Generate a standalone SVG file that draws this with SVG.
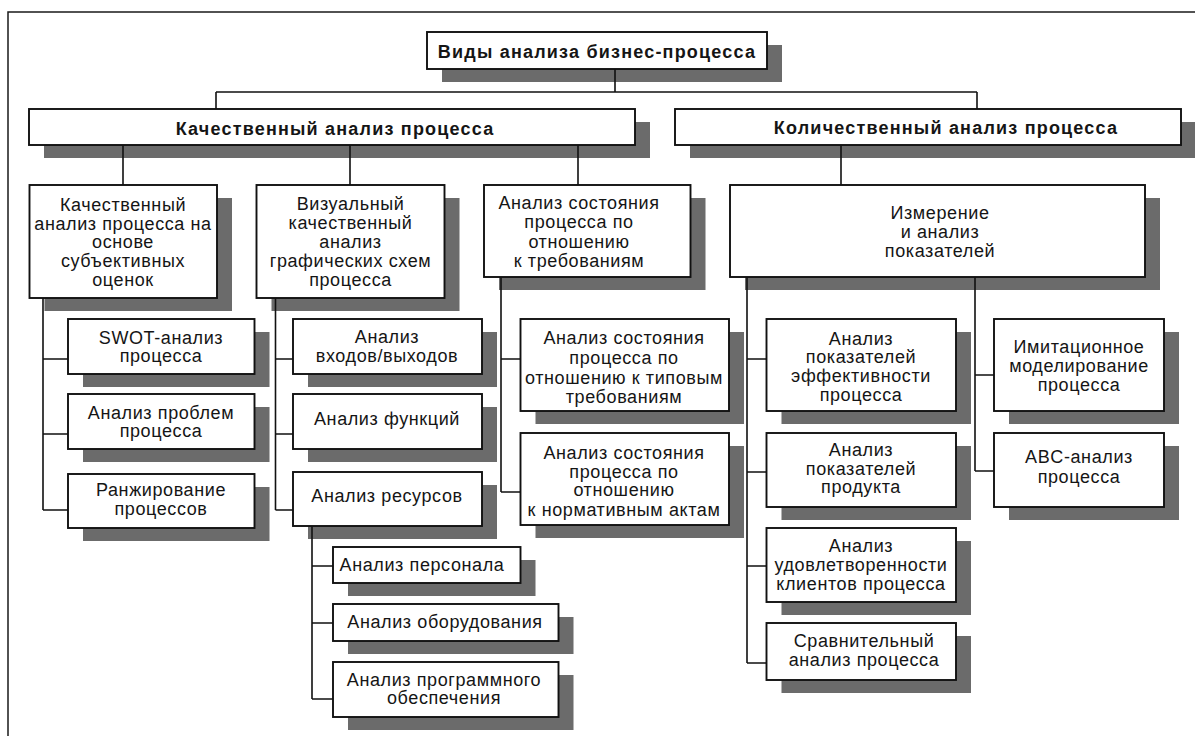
<svg xmlns="http://www.w3.org/2000/svg" width="1195" height="736" viewBox="0 0 1195 736">
<style>
.frame{fill:none;stroke:#1a1a1a;stroke-width:1.5}
.sh{fill:#6b6b6b}
.bx{fill:#fff;stroke:#111;stroke-width:1.9}
.cn{fill:none;stroke:#111;stroke-width:1.6}
text{font-family:"Liberation Sans",Arial,sans-serif;font-size:18px;fill:#151515;text-anchor:middle;letter-spacing:0.6px}
.b{font-weight:bold;letter-spacing:1.2px}
</style>
<rect width="1195" height="736" fill="#fff"/>
<rect class="frame" x="8" y="12" width="1200" height="740"/>

<g id="root">
<rect class="sh" x="442" y="45" width="340" height="37"/>
<rect class="bx" x="427" y="32" width="340" height="37"/>
<text class="b" x="597" y="58">Виды анализа бизнес-процесса</text>
</g>

<g id="qual">
<rect class="sh" x="44" y="122" width="606" height="36"/>
<rect class="bx" x="29" y="109" width="606" height="36"/>
<text class="b" x="335" y="134.5">Качественный анализ процесса</text>
</g>

<g id="quant">
<rect class="sh" x="690" y="122" width="506" height="36"/>
<rect class="bx" x="675" y="109" width="506" height="36"/>
<text class="b" x="946" y="134">Количественный анализ процесса</text>
</g>

<g id="nodeA">
<rect class="sh" x="44.5" y="198" width="187.5" height="113"/>
<rect class="bx" x="29.5" y="185" width="187.5" height="113"/>
<text x="123"><tspan x="123" y="211">Качественный</tspan><tspan x="123" y="230">анализ процесса на</tspan><tspan x="123" y="248">основе</tspan><tspan x="123" y="267">субъективных</tspan><tspan x="123" y="286">оценок</tspan></text>
</g>

<g id="nodeB">
<rect class="sh" x="271.5" y="198" width="188" height="113"/>
<rect class="bx" x="256.5" y="185" width="188" height="113"/>
<text x="350.5"><tspan x="350.5" y="210">Визуальный</tspan><tspan x="350.5" y="229">качественный</tspan><tspan x="350.5" y="248">анализ</tspan><tspan x="350.5" y="267">графических схем</tspan><tspan x="350.5" y="286">процесса</tspan></text>
</g>

<g id="nodeC">
<rect class="sh" x="499" y="198" width="206.5" height="92"/>
<rect class="bx" x="484" y="185" width="206.5" height="92"/>
<text x="579"><tspan x="579" y="209.3">Анализ состояния</tspan><tspan x="579" y="228.3">процесса по</tspan><tspan x="579" y="247.7">отношению</tspan><tspan x="579" y="266.7">к требованиям</tspan></text>
</g>

<g id="nodeD">
<rect class="sh" x="745" y="198" width="415" height="92"/>
<rect class="bx" x="730" y="185" width="415" height="92"/>
<text x="940"><tspan x="940" y="219">Измерение</tspan><tspan x="940" y="238">и анализ</tspan><tspan x="940" y="257">показателей</tspan></text>
</g>

<g id="nodeA1">
<rect class="sh" x="83" y="332" width="186.5" height="55"/>
<rect class="bx" x="68" y="319" width="186.5" height="55"/>
<text x="161"><tspan x="161" y="344">SWOT-анализ</tspan><tspan x="161" y="362">процесса</tspan></text>
</g>

<g id="nodeA2">
<rect class="sh" x="83" y="407" width="186.5" height="55"/>
<rect class="bx" x="68" y="394" width="186.5" height="55"/>
<text x="161"><tspan x="161" y="418.7">Анализ проблем</tspan><tspan x="161" y="436.7">процесса</tspan></text>
</g>

<g id="nodeA3">
<rect class="sh" x="83" y="487" width="186.5" height="54"/>
<rect class="bx" x="68" y="474" width="186.5" height="54"/>
<text x="161"><tspan x="161" y="496">Ранжирование</tspan><tspan x="161" y="515">процессов</tspan></text>
</g>

<g id="nodeB1">
<rect class="sh" x="308" y="332" width="189" height="55"/>
<rect class="bx" x="293" y="319" width="189" height="55"/>
<text x="387"><tspan x="387" y="342.7">Анализ</tspan><tspan x="387" y="361.7">входов/выходов</tspan></text>
</g>

<g id="nodeB2">
<rect class="sh" x="308" y="407" width="189" height="55"/>
<rect class="bx" x="293" y="394" width="189" height="55"/>
<text x="387" y="425.3">Анализ функций</text>
</g>

<g id="nodeB3">
<rect class="sh" x="308" y="485" width="189" height="54"/>
<rect class="bx" x="293" y="472" width="189" height="54"/>
<text x="387" y="501.7">Анализ ресурсов</text>
</g>

<g id="nodeB3a">
<rect class="sh" x="348" y="560" width="187.5" height="36"/>
<rect class="bx" x="333" y="547" width="187.5" height="36"/>
<text x="422" y="571">Анализ персонала</text>
</g>

<g id="nodeB3b">
<rect class="sh" x="348" y="617" width="225.5" height="37"/>
<rect class="bx" x="333" y="604" width="225.5" height="37"/>
<text x="445" y="628.3">Анализ оборудования</text>
</g>

<g id="nodeB3c">
<rect class="sh" x="348" y="675" width="225.5" height="55"/>
<rect class="bx" x="333" y="662" width="225.5" height="55"/>
<text x="444"><tspan x="444" y="686">Анализ программного</tspan><tspan x="444" y="704.3">обеспечения</tspan></text>
</g>

<g id="nodeC1">
<rect class="sh" x="535.5" y="332" width="208.5" height="92"/>
<rect class="bx" x="520.5" y="319" width="208.5" height="92"/>
<text x="624"><tspan x="624" y="344">Анализ состояния</tspan><tspan x="624" y="364">процесса по</tspan><tspan x="624" y="384">отношению к типовым</tspan><tspan x="624" y="403">требованиям</tspan></text>
</g>

<g id="nodeC2">
<rect class="sh" x="535.5" y="446" width="208.5" height="92"/>
<rect class="bx" x="520.5" y="433" width="208.5" height="92"/>
<text x="624"><tspan x="624" y="459">Анализ состояния</tspan><tspan x="624" y="478">процесса по</tspan><tspan x="624" y="496">отношению</tspan><tspan x="624" y="516">к нормативным актам</tspan></text>
</g>

<g id="nodeD1">
<rect class="sh" x="781.5" y="332" width="189.5" height="92"/>
<rect class="bx" x="766.5" y="319" width="189.5" height="92"/>
<text x="861"><tspan x="861" y="345">Анализ</tspan><tspan x="861" y="362.7">показателей</tspan><tspan x="861" y="382">эффективности</tspan><tspan x="861" y="401">процесса</tspan></text>
</g>

<g id="nodeD2">
<rect class="sh" x="781.5" y="446" width="189.5" height="74"/>
<rect class="bx" x="766.5" y="433" width="189.5" height="74"/>
<text x="861"><tspan x="861" y="456">Анализ</tspan><tspan x="861" y="475">показателей</tspan><tspan x="861" y="492.7">продукта</tspan></text>
</g>

<g id="nodeD3">
<rect class="sh" x="781.5" y="541" width="189.5" height="74"/>
<rect class="bx" x="766.5" y="528" width="189.5" height="74"/>
<text x="861"><tspan x="861" y="552">Анализ</tspan><tspan x="861" y="571">удовлетворенности</tspan><tspan x="861" y="590">клиентов процесса</tspan></text>
</g>

<g id="nodeD4">
<rect class="sh" x="781.5" y="636" width="189.5" height="57"/>
<rect class="bx" x="766.5" y="623" width="189.5" height="57"/>
<text x="864"><tspan x="864" y="647">Сравнительный</tspan><tspan x="864" y="666">анализ процесса</tspan></text>
</g>

<g id="nodeD5">
<rect class="sh" x="1009" y="332" width="170" height="92"/>
<rect class="bx" x="994" y="319" width="170" height="92"/>
<text x="1079"><tspan x="1079" y="352.7">Имитационное</tspan><tspan x="1079" y="372">моделирование</tspan><tspan x="1079" y="391">процесса</tspan></text>
</g>

<g id="nodeD6">
<rect class="sh" x="1009" y="446" width="170" height="74"/>
<rect class="bx" x="994" y="433" width="170" height="74"/>
<text x="1079"><tspan x="1079" y="463.3">ABC-анализ</tspan><tspan x="1079" y="482.7">процесса</tspan></text>
</g>

<g id="connectors">
<path class="cn" d="M615 69V92M216 92H977M216 92V109M977 92V109"/>
<path class="cn" d="M123 145V185M350 145V185M578 145V185M841 145V185"/>
<path class="cn" d="M43 298V510M43 359H68M43 434H68M43 510H68"/>
<path class="cn" d="M275.5 298V510M275.5 359H293M275.5 434H293M275.5 510H293"/>
<path class="cn" d="M312 526V699M312 566H333M312 623H333M312 699H333"/>
<path class="cn" d="M501 277V492M501 359H520.5M501 492H520.5"/>
<path class="cn" d="M747 277V663M747 359H766.5M747 472H766.5M747 566H766.5M747 663H766.5"/>
<path class="cn" d="M975 277V471M975 375H994M975 471H994"/>
</g>
</svg>
